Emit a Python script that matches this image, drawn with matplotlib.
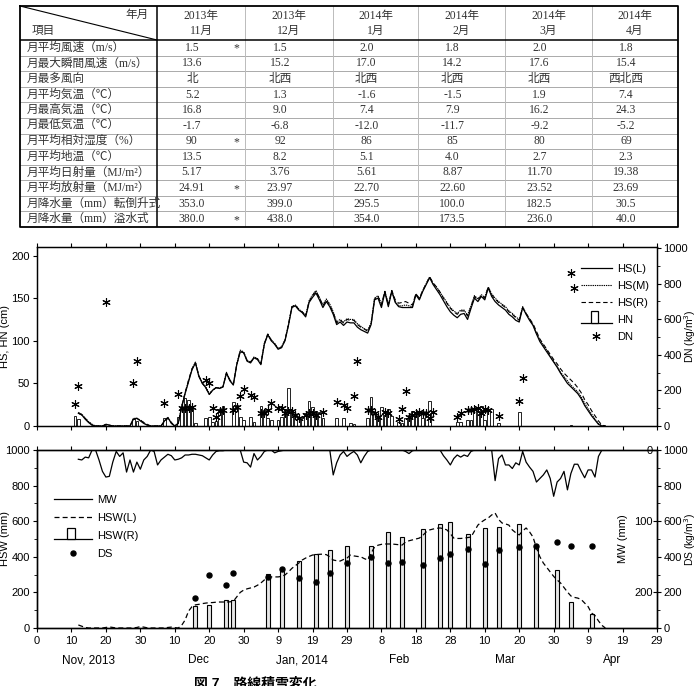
import matplotlib
matplotlib.use('Agg')
import matplotlib.pyplot as plt
import matplotlib.transforms as mtransforms
import numpy as np
from matplotlib.ticker import MultipleLocator
from matplotlib.legend_handler import HandlerBase
from matplotlib.patches import Rectangle
from matplotlib.lines import Line2D

plt.rcParams['font.family'] = ['Liberation Sans', 'Noto Sans CJK JP']
plt.rcParams['font.size'] = 8
plt.rcParams['axes.linewidth'] = 0.9

# ---------------- table data ----------------
years = ['2013年', '2013年', '2014年', '2014年', '2014年', '2014年']
months = ['11月', '12月', '1月', '2月', '3月', '4月']
row_labels = ['月平均風速（m/s）', '月最大瞬間風速（m/s）', '月最多風向', '月平均気温（℃）',
              '月最高気温（℃）', '月最低気温（℃）', '月平均相対湿度（%）', '月平均地温（℃）',
              '月平均日射量（MJ/m²）', '月平均放射量（MJ/m²）', '月降水量（mm）転倒升式',
              '月降水量（mm）溢水式']
wind_mean = ['1.5', '1.5', '2.0', '1.8', '2.0', '1.8']
wind_max = ['13.6', '15.2', '17.0', '14.2', '17.6', '15.4']
wind_dir = ['北', '北西', '北西', '北西', '北西', '西北西']
temp_mean = ['5.2', '1.3', '-1.6', '-1.5', '1.9', '7.4']
temp_max = ['16.8', '9.0', '7.4', '7.9', '16.2', '24.3']
temp_min = ['-1.7', '-6.8', '-12.0', '-11.7', '-9.2', '-5.2']
humidity = ['90', '92', '86', '85', '80', '69']
ground_temp = ['13.5', '8.2', '5.1', '4.0', '2.7', '2.3']
solar = ['5.17', '3.76', '5.61', '8.87', '11.70', '19.38']
radiation = ['24.91', '23.97', '22.70', '22.60', '23.52', '23.69']
precip_tip = ['353.0', '399.0', '295.5', '100.0', '182.5', '30.5']
precip_over = ['380.0', '438.0', '354.0', '173.5', '236.0', '40.0']
table_rows = [wind_mean, wind_max, wind_dir, temp_mean, temp_max, temp_min,
              humidity, ground_temp, solar, radiation, precip_tip, precip_over]
star_rows = [0, 6, 9, 11]

# ---------------- chart data (day 0 = 31 Oct 2013) ----------------
hs_start = 12
hs_l = [15, 13, 8, 4, 1,
        0, 0, 0, 2, 1, 0, 0, 0, 0, 0, 0,
        8, 9, 6, 3, 1,
        0, 0, 0, 0,
        6, 10, 3, 0,
        3, 22, 38, 52, 66, 74, 58, 50, 45, 37,
        42, 45, 44, 46, 62, 53, 48, 72, 87, 86,
        76, 74, 80, 78, 72, 96, 107, 100, 96, 90,
        92, 100, 118, 139, 141, 136, 133, 128, 145, 151,
        156, 148, 139, 146, 140, 131, 119, 122, 118, 122,
        121, 121, 116, 113, 111, 109, 119, 148, 150, 139,
        157, 140, 158, 145, 140, 139, 139, 139, 139, 154,
        148, 158, 166, 174, 166, 160, 154, 147, 140, 134,
        130, 127, 131, 132, 125, 138, 150, 146, 152, 148,
        162, 152, 146, 142, 139, 136, 131, 128, 124, 122,
        139, 131, 124, 118, 108, 99, 93, 87, 81, 75,
        69, 62, 56, 50, 46, 42, 38, 32, 24, 18,
        12, 7, 2, 0, 0]
hs_m = [16, 14, 9, 5, 2,
        0, 0, 0, 2, 1, 0, 0, 0, 0, 0, 0,
        9, 9, 7, 4, 1,
        0, 0, 0, 0,
        6, 10, 4, 0,
        3, 23, 39, 53, 67, 75, 59, 51, 46, 38,
        42, 45, 45, 46, 63, 54, 49, 73, 89, 87,
        77, 75, 81, 79, 73, 97, 108, 101, 97, 91,
        93, 101, 119, 140, 142, 137, 134, 130, 147, 154,
        159, 151, 142, 149, 143, 134, 122, 125, 122, 126,
        125, 125, 120, 117, 114, 112, 121, 150, 153, 143,
        158, 142, 159, 146, 141, 141, 142, 141, 140, 155,
        149, 159, 167, 175, 167, 163, 157, 151, 145, 139,
        135, 132, 136, 136, 130, 141, 153, 149, 154, 151,
        163, 155, 150, 146, 143, 140, 135, 132, 128, 125,
        140, 132, 125, 119, 109, 101, 95, 89, 82, 76,
        70, 63, 58, 53, 48, 44, 40, 34, 27, 20,
        14, 8, 3, 0, 0]
hs_r = [15, 13, 9, 5, 1,
        0, 0, 0, 1, 1, 0, 0, 0, 0, 0, 0,
        8, 9, 7, 4, 2,
        0, 0, 0, 0,
        5, 9, 4, 0,
        3, 23, 39, 54, 67, 74, 59, 50, 45, 37,
        42, 45, 44, 46, 62, 54, 49, 72, 88, 86,
        77, 75, 80, 79, 73, 96, 108, 101, 96, 91,
        92, 101, 119, 140, 142, 137, 134, 129, 146, 153,
        158, 150, 141, 148, 142, 133, 121, 124, 121, 125,
        124, 124, 119, 116, 114, 111, 120, 149, 152, 142,
        158, 142, 159, 148, 144, 145, 146, 144, 142, 155,
        150, 159, 167, 175, 168, 163, 157, 150, 144, 138,
        134, 131, 135, 135, 129, 140, 152, 148, 153, 150,
        163, 154, 149, 145, 142, 139, 134, 131, 127, 124,
        139, 132, 126, 120, 111, 102, 96, 90, 84, 78,
        73, 67, 62, 58, 54, 50, 45, 39, 31, 25,
        18, 12, 6, 1, 0]

hn_days = [11, 12, 28, 29, 37, 41, 42, 43, 44, 45, 46, 49, 50, 51, 52, 53, 54, 57, 58, 59, 60,
           62, 63, 65, 66, 67, 68, 70, 71, 72, 73, 74, 75, 76, 77, 78, 79, 80, 81, 82, 83,
           87, 89, 91, 92, 96, 97, 98, 99, 100, 101, 102, 103, 105, 106, 107, 108, 109, 110,
           111, 112, 113, 114, 122, 123, 125, 126, 127, 128, 129, 130, 131, 132, 134, 140, 155]
hn_vals = [12, 8, 8, 6, 9, 10, 21, 33, 30, 24, 3, 9, 11, 5, 6, 20, 23, 28, 25, 11, 7,
           11, 5, 24, 19, 9, 7, 7, 11, 20, 44, 18, 13, 11, 9, 15, 29, 22, 18, 17, 9,
           9, 9, 3, 2, 9, 34, 15, 11, 22, 13, 20, 12, 5, 3, 9, 13, 18, 15,
           13, 9, 17, 29, 5, 5, 7, 7, 20, 18, 24, 7, 20, 20, 3, 16, 1]

dn_days = [11, 12, 20, 28, 29, 37, 41, 42, 43, 44, 45, 49, 50, 51, 52, 53, 54, 57, 58, 59, 60,
           62, 63, 65, 66, 67, 68, 70, 71, 72, 73, 74, 75, 76, 78, 79, 80, 81, 83, 87, 89, 90,
           92, 93, 96, 97, 98, 99, 101, 102, 105, 106, 107, 108, 109, 110, 111, 112, 113, 114,
           115, 122, 123, 125, 126, 127, 128, 129, 130, 131, 134, 140, 141, 155, 156]
dn_vals = [124, 225, 697, 242, 365, 129, 180, 99, 99, 99, 108, 258, 241, 101, 51, 84, 90, 90, 107, 169, 208,
           174, 163, 73, 73, 90, 129, 101, 101, 73, 84, 84, 62, 45, 62, 73, 73, 62, 79, 135, 118, 101,
           169, 365, 90, 90, 73, 50, 79, 73, 39, 96, 197, 51, 62, 73, 79, 73, 73, 45,
           79, 51, 73, 88, 90, 98, 103, 73, 94, 88, 56, 140, 270, 860, 775]

mw = [13, 14, 10, 11, 0, 0, 14, 30, 38, 37,
      17, 2, 9, 4, 31, 14, 31, 17, 27, 14,
      9, 0, 2, 21, 14, 10, 6, 8, 14, 13,
      11, 7, 7, 6, 6, 7, 8, 11, 14, 7,
      2, 1, 1, 0, 0, 0, 0, 0, 17, 18,
      24, 5, 14, 9, 2, 0, 0, 4, 2, 1,
      0, 0, 0, 0, 0, 0, 0, 0, 0, 0,
      0, 0, 0, 0, 35, 18, 7, 2, 9, 5,
      2, 7, 18, 9, 2, 0, 0, 0, 0, 0,
      0, 0, 0, 0, 0, 2, 5, 1, 0, 0,
      0, 0, 0, 0, 0, 0, 8, 14, 21, 12,
      7, 10, 7, 9, 2, 0, 0, 0, 0, 0,
      0, 43, 12, 7, 21, 21, 26, 18, 21, 2,
      17, 24, 30, 45, 40, 35, 28, 40, 65, 45,
      40, 30, 56, 33, 20, 20, 30, 39, 28, 28,
      38, 9, 0, 0]
hsw_l = [17, 10, 3, 0, 0, 0, 0, 0, 3, 6,
         3, 0, 0, 0, 0, 0, 0, 3, 8, 5,
         1, 0, 0, 0, 0, 0, 3, 5, 2, 0,
         15, 45, 95, 120, 130, 133, 137, 140, 142, 143,
         145, 146, 146, 146, 147, 150, 175, 200, 213, 220,
         225, 230, 240, 253, 270, 282, 287, 287, 287, 290,
         298, 315, 335, 350, 365, 382, 393, 402, 410, 412,
         414, 415, 412, 400, 382, 378, 376, 385, 393, 410,
         405, 402, 400, 390, 382, 420, 455, 465, 470, 472,
         472, 472, 470, 468, 466, 483, 490, 495, 500, 505,
         520, 540, 551, 556, 560, 562, 558, 551, 530, 505,
         503, 503, 505, 508, 511, 545, 578, 595, 608, 618,
         635, 646, 610, 590, 585, 578, 551, 535, 523, 545,
         562, 540, 511, 450, 400, 365, 340, 315, 290, 270,
         253, 228, 202, 180, 172, 168, 160, 140, 120, 84,
         70, 40, 15, 0]
hswr_days = [46, 50, 55, 57, 67, 71, 76, 81, 85, 90, 97, 102, 106, 112, 117, 120, 125, 130, 134,
             140, 145, 151, 155, 161]
hswr_vals = [125, 130, 160, 158, 302, 320, 375, 418, 440, 460, 460, 540, 514, 557, 582, 595, 529,
             563, 568, 582, 463, 328, 146, 81]
ds_vals = [168, 299, 239, 308, 286, 331, 280, 256, 308, 365, 397, 365, 370, 356, 393, 418, 444,
           362, 437, 453, 458, 484, 458, 462]

tick_labels = ['0', '10', '20', '30', '10', '20', '30', '9', '19', '29', '8', '18', '28',
               '10', '20', '30', '9', '19', '29']
month_names = ['Nov, 2013', 'Dec', 'Jan, 2014', 'Feb', 'Mar', 'Apr']
month_pos = [15, 47, 77, 105, 136, 167]

days = np.arange(hs_start, hs_start + len(hs_l))


class BarOnLine(HandlerBase):
    def __init__(self, fc):
        super().__init__()
        self.fc = fc

    def create_artists(self, legend, orig_handle, xdescent, ydescent, width, height, fontsize, trans):
        y0 = -ydescent
        line = Line2D([-xdescent, -xdescent + width], [y0, y0], color='black', lw=0.9, transform=trans)
        rw = width * 0.22
        rect = Rectangle((-xdescent + width * 0.45 - rw / 2, y0), rw, height * 1.45,
                         facecolor=self.fc, edgecolor='black', lw=0.9, transform=trans)
        return [line, rect]


W, H = 698, 686
fig = plt.figure(figsize=(W / 100, H / 100), dpi=100)


def fx(px):
    return px / W


def fy(py):
    return 1 - py / H


# ---------------- table ----------------
tab = fig.add_axes([fx(20), fy(227), fx(658), 221 / H])
tab.set_xlim(0, 658)
tab.set_ylim(221, 0)
tab.axis('off')
col_edges = [0, 137, 225, 313, 398, 485, 572, 658]
head_h = 34
row_h = (221 - head_h) / len(row_labels)
tfont = ['Liberation Serif', 'Noto Sans CJK JP']
tcol = '#333333'
tsize = 8.4

for i in range(1, len(row_labels)):
    tab.plot([0, 658], [head_h + i * row_h] * 2, color='#aaaaaa', lw=0.7)
for x in col_edges[2:-1]:
    tab.plot([x, x], [0, 221], color='#bbbbbb', lw=0.7)
tab.plot([0, 658], [head_h, head_h], color='black', lw=1.1)
tab.plot([137, 137], [0, 221], color='black', lw=1.1)
tab.plot([0, 658, 658, 0, 0], [0, 0, 221, 221, 0], color='black', lw=1.3, clip_on=False)
tab.plot([0, 137], [0, head_h], color='black', lw=0.8)
tab.text(129, 9, '年月', ha='right', va='center', fontsize=tsize, family=tfont, color=tcol)
tab.text(12, 25, '項目', ha='left', va='center', fontsize=tsize, family=tfont, color=tcol)
for j in range(6):
    cx = (col_edges[j + 1] + col_edges[j + 2]) / 2
    tab.text(cx, 9.5, years[j], ha='center', va='center', fontsize=tsize, family=tfont, color=tcol)
    tab.text(cx, 25, months[j], ha='center', va='center', fontsize=tsize, family=tfont, color=tcol)
for i, (lab, vals) in enumerate(zip(row_labels, table_rows)):
    cy = head_h + (i + 0.5) * row_h
    tab.text(7, cy, lab, ha='left', va='center', fontsize=tsize, family=tfont, color=tcol)
    for j, v in enumerate(vals):
        cx = (col_edges[j + 1] + col_edges[j + 2]) / 2 - 9
        tab.text(cx, cy, v, ha='center', va='center', fontsize=tsize, family=tfont, color=tcol)
    if i in star_rows:
        tab.text(216, cy + 1, '*', ha='center', va='center', fontsize=8.5, family=tfont, color=tcol)

# ---------------- top panel ----------------
ax1 = fig.add_axes([fx(37), fy(426), fx(620), 179 / H])
ax1.bar(hn_days, hn_vals, width=0.8, facecolor='white', edgecolor='#222222', linewidth=0.7, zorder=2)
ax1.plot(days, hs_l, color='black', lw=0.9, zorder=3)
ax1.plot(days, hs_m, color='black', lw=0.8, ls=(0, (1.2, 0.8)), zorder=3)
ax1.plot(days, hs_r, color='black', lw=0.8, ls=(0, (4, 2.5)), zorder=3)
ax1.set_xlim(0, 180)
ax1.set_ylim(0, 210)
ax1.set_xticks(range(0, 181, 10))
ax1.yaxis.set_major_locator(MultipleLocator(50))
ax1.tick_params(axis='x', top=True, labelbottom=False, length=3)
ax1.tick_params(axis='y', length=3, pad=2)
ax1.set_ylabel('HS, HN (cm)')
ax1.yaxis.set_label_coords(-0.043, 0.5)

ax1r = ax1.twinx()
ax1r.set_ylim(0, 1005)
ax1r.yaxis.set_major_locator(MultipleLocator(200))
ax1r.yaxis.set_minor_locator(MultipleLocator(100))
ax1r.tick_params(axis='y', which='major', length=3, pad=1.5)
ax1r.tick_params(axis='y', which='minor', length=2)
ax1r.plot(dn_days, dn_vals, ls='none', marker=(6, 2, 0), ms=6, mew=0.8, color='black')
ax1r.set_ylabel('DN (kg/m$^3$)', fontsize=7.5)
ax1r.yaxis.set_label_coords(1.041, 0.5)

hn_proxy = Rectangle((0, 0), 1, 1)
h1 = [Line2D([], [], color='black', lw=0.9),
      Line2D([], [], color='black', lw=0.8, ls=(0, (1.2, 0.8))),
      Line2D([], [], color='black', lw=0.8, ls=(0, (4, 2.5))),
      hn_proxy,
      Line2D([], [], ls='none', marker=(6, 2, 0), ms=6, mew=0.8, color='black')]
ax1r.legend(h1, ['HS(L)', 'HS(M)', 'HS(R)', 'HN', 'DN'], loc='upper right',
            bbox_to_anchor=(0.995, 0.93), frameon=False, fontsize=8, handlelength=2.8,
            handletextpad=0.5, labelspacing=0.62, borderaxespad=0,
            handler_map={hn_proxy: BarOnLine('white')})

# ---------------- bottom panel ----------------
ax2 = fig.add_axes([fx(37), fy(628), fx(620), 178 / H])
ax2.bar(hswr_days, hswr_vals, width=1.15, facecolor='#e6e6e6', edgecolor='black', linewidth=0.8, zorder=2)
ax2.plot(days, hsw_l, color='black', lw=0.9, ls=(0, (4, 2.5)), zorder=3)
ax2.set_xlim(0, 180)
ax2.set_ylim(0, 1000)
ax2.set_xticks(range(0, 181, 10))
ax2.set_xticklabels(tick_labels)
ax2.yaxis.set_major_locator(MultipleLocator(200))
ax2.yaxis.set_minor_locator(MultipleLocator(100))
ax2.tick_params(axis='x', top=True, length=3, pad=3)
ax2.tick_params(axis='y', which='major', length=3, pad=2)
ax2.tick_params(axis='y', which='minor', length=2)
ax2.set_ylabel('HSW (mm)')
ax2.yaxis.set_label_coords(-0.043, 0.5)

ax2r = ax2.twinx()
ax2r.set_ylim(0, 1000)
ax2r.yaxis.set_major_locator(MultipleLocator(200))
ax2r.yaxis.set_minor_locator(MultipleLocator(100))
ax2r.tick_params(axis='y', which='major', length=3, pad=1.5)
ax2r.tick_params(axis='y', which='minor', length=2)
ax2r.plot(hswr_days, ds_vals, ls='none', marker='o', ms=3.6, color='black', zorder=4)
ax2r.set_ylabel('DS (kg/m$^3$)', fontsize=7.5)
ax2r.yaxis.set_label_coords(1.041, 0.5)

ax2m = ax2.twinx()
ax2m.set_ylim(250, 0)
ax2m.plot(days, mw, color='black', lw=0.9)
ax2m.set_yticks([0, 100, 200])
ax2m.tick_params(axis='y', direction='in', length=3, pad=-3)
plt.setp(ax2m.get_yticklabels(), ha='right')
ax2m.set_ylabel('MW (mm)')
ax2m.yaxis.set_label_coords(0.937, 0.5)

trans = mtransforms.blended_transform_factory(ax2.transData, ax2.transAxes)
for name, pos in zip(month_names, month_pos):
    ax2.text(pos, -0.18, name, transform=trans, ha='center', va='center', fontsize=8.5)

hsw_proxy = Rectangle((0, 0), 1, 1)
h2 = [Line2D([], [], color='black', lw=0.9),
      Line2D([], [], color='black', lw=0.9, ls=(0, (4, 2.5))),
      hsw_proxy,
      Line2D([], [], ls='none', marker='o', ms=3.6, color='black')]
ax2m.legend(h2, ['MW', 'HSW(L)', 'HSW(R)', 'DS'], loc='upper left',
            bbox_to_anchor=(0.02, 0.77), frameon=False, fontsize=8, handlelength=3.4,
            handletextpad=0.5, labelspacing=0.72, borderaxespad=0,
            handler_map={hsw_proxy: BarOnLine('white')})

fig.text(fx(255), 0.004, '図 7　路線積雪変化', ha='center', va='center', fontsize=10, fontweight='bold')

fig.savefig('out.png', dpi=100)
